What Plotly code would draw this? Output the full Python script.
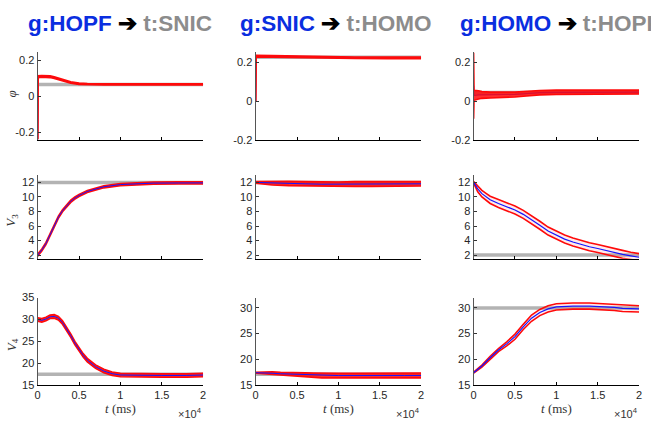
import plotly.graph_objects as go
from plotly.subplots import make_subplots

W, H = 651, 428

# ---------------- data ----------------
# time grids (ms)
t_phi1 = [0, 50, 500, 1000, 1500, 2000, 2500, 3000, 3500, 4000, 5000, 6000, 8000, 12000, 16000, 20000]
phi1_mid = [-0.24, 0.110, 0.112, 0.112, 0.110, 0.105, 0.098, 0.090, 0.083, 0.077, 0.070, 0.068, 0.067, 0.067, 0.067, 0.067]
phi1_hi = [-0.24, 0.115, 0.117, 0.117, 0.115, 0.110, 0.103, 0.095, 0.088, 0.081, 0.074, 0.071, 0.070, 0.070, 0.070, 0.070]
phi1_lo = [-0.24, 0.105, 0.107, 0.107, 0.105, 0.100, 0.093, 0.085, 0.078, 0.073, 0.066, 0.064, 0.064, 0.064, 0.064, 0.064]

t_phi2 = [0, 50, 2000, 5000, 8000, 12000, 16000, 20000]
phi2_mid = [0.0, 0.232, 0.231, 0.228, 0.225, 0.224, 0.223, 0.223]
phi2_hi = [0.0, 0.236, 0.235, 0.232, 0.229, 0.228, 0.227, 0.227]
phi2_lo = [0.0, 0.228, 0.227, 0.224, 0.221, 0.220, 0.219, 0.219]

t_phi3 = [0, 50, 600, 1000, 2000, 3000, 4000, 5000, 6000, 7000, 8000, 10000, 14000, 20000]
phi3_hi = [0.25, 0.056, 0.054, 0.050, 0.047, 0.046, 0.046, 0.047, 0.050, 0.053, 0.055, 0.057, 0.057, 0.057]
phi3_lo = [-0.09, 0.005, 0.012, 0.015, 0.017, 0.018, 0.020, 0.022, 0.026, 0.030, 0.033, 0.035, 0.037, 0.037]
phi3_mid = [0.08, 0.030, 0.033, 0.033, 0.032, 0.032, 0.033, 0.035, 0.038, 0.042, 0.044, 0.046, 0.047, 0.047]

t_v3a = [0, 500, 1000, 1500, 2000, 2500, 3000, 3500, 4000, 4500, 5000, 6000, 7000, 8000, 10000, 12000, 14000, 17000, 20000]
v3a_mid = [2.0, 2.7, 3.6, 4.8, 6.0, 7.2, 8.1, 8.8, 9.4, 9.85, 10.2, 10.75, 11.1, 11.4, 11.7, 11.85, 11.9, 11.92, 11.93]
v3a_hi = [2.15, 2.85, 3.75, 4.95, 6.15, 7.35, 8.25, 8.95, 9.55, 10.0, 10.35, 10.9, 11.25, 11.55, 11.85, 12.0, 12.05, 12.07, 12.08]
v3a_lo = [1.85, 2.55, 3.45, 4.65, 5.85, 7.05, 7.95, 8.65, 9.25, 9.7, 10.05, 10.6, 10.95, 11.25, 11.55, 11.7, 11.75, 11.77, 11.78]

t_v3b = [0, 2000, 4000, 6000, 8000, 10000, 12000, 14000, 16000, 18000, 20000]
v3b_mid = [12.0, 11.9, 11.85, 11.8, 11.75, 11.75, 11.78, 11.75, 11.78, 11.8, 11.8]
v3b_hi = [12.1, 12.15, 12.15, 12.1, 12.05, 12.05, 12.1, 12.05, 12.1, 12.1, 12.1]
v3b_lo = [11.9, 11.65, 11.55, 11.5, 11.45, 11.45, 11.45, 11.45, 11.45, 11.5, 11.5]

t_v3c = [0, 500, 1000, 1500, 2000, 3000, 4000, 5000, 6000, 7000, 8000, 9000, 10000, 11000, 12000, 13000, 14000, 15000, 16000, 17000, 18000, 19000, 20000]
v3c_mid = [12.0, 11.1, 10.45, 10.0, 9.6, 9.1, 8.7, 8.2, 7.6, 6.9, 6.1, 5.3, 4.7, 4.2, 3.8, 3.45, 3.15, 2.9, 2.6, 2.35, 2.1, 1.9, 1.7]
v3c_hi = [12.1, 11.5, 10.9, 10.5, 10.1, 9.65, 9.25, 8.75, 8.15, 7.45, 6.65, 5.85, 5.25, 4.75, 4.35, 4.0, 3.7, 3.45, 3.15, 2.9, 2.65, 2.4, 2.2]
v3c_lo = [11.9, 10.7, 10.0, 9.5, 9.1, 8.55, 8.15, 7.65, 7.05, 6.35, 5.55, 4.75, 4.15, 3.65, 3.25, 2.9, 2.6, 2.35, 2.05, 1.8, 1.55, 1.4, 1.2]

t_v4a = [0, 500, 1000, 1500, 2000, 2500, 3000, 3500, 4000, 4500, 5000, 5500, 6000, 7000, 8000, 9000, 10000, 12000, 15000, 18000, 20000]
v4a_mid = [30.0, 29.8, 30.1, 30.6, 30.7, 30.3, 29.3, 27.9, 26.3, 24.6, 23.1, 21.8, 20.7, 19.2, 18.2, 17.6, 17.3, 17.2, 17.2, 17.2, 17.3]
v4a_hi = [30.4, 30.2, 30.5, 31.0, 31.1, 30.7, 29.7, 28.3, 26.7, 25.0, 23.5, 22.2, 21.1, 19.6, 18.6, 18.0, 17.7, 17.6, 17.6, 17.6, 17.7]
v4a_lo = [29.6, 29.4, 29.7, 30.2, 30.3, 29.9, 28.9, 27.5, 25.9, 24.2, 22.7, 21.4, 20.3, 18.8, 17.8, 17.2, 16.9, 16.8, 16.8, 16.8, 16.9]

t_v4b = [0, 1000, 2000, 3000, 4000, 5000, 6000, 7000, 8000, 10000, 12000, 14000, 16000, 18000, 20000]
v4b_mid = [17.4, 17.4, 17.3, 17.2, 17.15, 17.1, 17.0, 16.95, 16.85, 16.85, 16.85, 16.8, 16.85, 16.85, 16.85]
v4b_hi = [17.5, 17.6, 17.6, 17.5, 17.5, 17.45, 17.4, 17.35, 17.3, 17.3, 17.3, 17.3, 17.3, 17.35, 17.35]
v4b_lo = [17.3, 17.2, 17.0, 16.9, 16.8, 16.75, 16.65, 16.55, 16.4, 16.4, 16.4, 16.35, 16.4, 16.4, 16.4]

t_v4c = [0, 1000, 2000, 3000, 4000, 5000, 6000, 7000, 8000, 9000, 10000, 11000, 12000, 14000, 16000, 17000, 18000, 19000, 20000]
v4c_mid = [17.4, 18.7, 20.3, 21.8, 23.0, 24.4, 26.3, 28.0, 29.1, 29.8, 30.2, 30.3, 30.35, 30.35, 30.2, 30.1, 29.9, 29.8, 29.8]
v4c_hi = [17.5, 18.9, 20.6, 22.1, 23.4, 24.9, 26.8, 28.6, 29.7, 30.4, 30.8, 30.9, 30.95, 30.95, 30.8, 30.7, 30.55, 30.45, 30.4]
v4c_lo = [17.3, 18.5, 20.0, 21.5, 22.6, 23.9, 25.8, 27.4, 28.5, 29.2, 29.6, 29.7, 29.75, 29.75, 29.6, 29.5, 29.3, 29.2, 29.2]

# target (gray) values per panel [row][col]
targets = [[0.067, 0.226, 0.045], [12.0, 12.0, 2.0], [17.5, 17.1, 30.0]]

titles_g = ["g:HOPF", "g:SNIC", "g:HOMO"]
titles_t = ["t:SNIC", "t:HOMO", "t:HOPF"]

xtick_vals = [0, 5000, 10000, 15000, 20000]
xtick_text = ["0", "0.5", "1", "1.5", "2"]
ytick_phi = [-0.2, 0, 0.2]
ytick_phi_text = ["-0.2", "0", "0.2"]
ytick_v3 = [2, 4, 6, 8, 10, 12]
ytick_v4a = [15, 20, 25, 30, 35]
ytick_v4b = [15, 20, 25, 30]

panels = [
    [(t_phi1, phi1_lo, phi1_mid, phi1_hi), (t_phi2, phi2_lo, phi2_mid, phi2_hi), (t_phi3, phi3_lo, phi3_mid, phi3_hi)],
    [(t_v3a, v3a_lo, v3a_mid, v3a_hi), (t_v3b, v3b_lo, v3b_mid, v3b_hi), (t_v3c, v3c_lo, v3c_mid, v3c_hi)],
    [(t_v4a, v4a_lo, v4a_mid, v4a_hi), (t_v4b, v4b_lo, v4b_mid, v4b_hi), (t_v4c, v4c_lo, v4c_mid, v4c_hi)],
]

# ---------------- layout geometry (pixels) ----------------
col_px = [(35, 202), (255, 422), (475, 642)]
row_px = [(47, 138), (174, 260), (300, 390)]
yranges = [
    [[-0.245, 0.25], [-0.2, 0.255], [-0.2, 0.255]],
    [[1.5, 13.0], [1.5, 13.0], [1.5, 13.0]],
    [[15, 35], [15, 32], [15, 32]],
]

RED = "#ff0a0a"
BLUE = "#1414ff"
GRAY = "#b3b3b3"
TICKFONT = dict(family="Liberation Sans, Arial, sans-serif", size=11, color="#262626")

fig = make_subplots(rows=3, cols=3)

for r in range(3):
    for c in range(3):
        t, lo, mid, hi = panels[r][c]
        # target line
        fig.add_trace(go.Scatter(x=[0, 20000], y=[targets[r][c]] * 2, mode="lines",
                                 line=dict(color=GRAY, width=3.5), showlegend=False,
                                 hoverinfo="skip"), row=r + 1, col=c + 1)
        wide = (c == 2 and r > 0)
        fillc = "rgba(255,60,60,0.10)" if wide else "rgba(255,10,10,0.85)"
        if r == 0:
            fig.add_trace(go.Scatter(x=t, y=mid, mode="lines", line=dict(color=BLUE, width=1.2),
                                     showlegend=False), row=r + 1, col=c + 1)
        fig.add_trace(go.Scatter(x=t, y=lo, mode="lines", line=dict(color=RED, width=1.6),
                                 showlegend=False), row=r + 1, col=c + 1)
        fig.add_trace(go.Scatter(x=t, y=hi, mode="lines", line=dict(color=RED, width=1.6),
                                 fill="tonexty", fillcolor=fillc, showlegend=False),
                      row=r + 1, col=c + 1)
        if r > 0:
            fig.add_trace(go.Scatter(x=t, y=mid, mode="lines",
                                     line=dict(color=BLUE, width=1.2 if wide else 1.0),
                                     showlegend=False), row=r + 1, col=c + 1)

        idx = r * 3 + c + 1
        xa = "xaxis" if idx == 1 else f"xaxis{idx}"
        ya = "yaxis" if idx == 1 else f"yaxis{idx}"
        x0, x1 = col_px[c]
        y0, y1 = row_px[r]
        fig.layout[xa].update(
            domain=[x0 / W, x1 / W], range=[0, 20000], showgrid=False, zeroline=False,
            showline=True, linecolor="#000000", linewidth=1, ticks="inside", ticklen=3,
            tickcolor="#000000", tickvals=xtick_vals,
            ticktext=xtick_text if r == 2 else [""] * 5, tickfont=TICKFONT,
        )
        if r == 0:
            yt, ytt = ytick_phi, ytick_phi_text
        elif r == 1:
            yt, ytt = ytick_v3, [str(v) for v in ytick_v3]
        else:
            yt = ytick_v4a if c == 0 else ytick_v4b
            ytt = [str(v) for v in yt]
        fig.layout[ya].update(
            domain=[1 - y1 / H, 1 - y0 / H], range=yranges[r][c], showgrid=False, zeroline=False,
            showline=True, linecolor="#555555", linewidth=1.3, ticks="inside", ticklen=3,
            tickcolor="#333333", tickvals=yt, ticktext=ytt, tickfont=TICKFONT,
        )

annotations = []
title_xc = [118.5, 336, 562]
for c in range(3):
    annotations.append(dict(
        x=title_xc[c] / W, y=1 - 18 / H, xref="paper", yref="paper", xanchor="center", yanchor="middle",
        showarrow=False,
        text=(f"<b><span style='color:#0a2ee0'>{titles_g[c]}</span> "
              f"<span style='color:#000000'>➔</span> "
              f"<span style='color:#8c8c8c'>{titles_t[c]}</span></b>"),
        font=dict(family="Liberation Sans, Arial, sans-serif", size=22.5),
    ))
    xc = (col_px[c][0] + col_px[c][1]) / 2
    annotations.append(dict(
        x=xc / W, y=1 - 414 / H, xref="paper", yref="paper", xanchor="center", yanchor="middle",
        showarrow=False, text="<i>t</i> (ms)",
        font=dict(family="Liberation Serif, DejaVu Serif, serif", size=13, color="#333333"),
    ))
    annotations.append(dict(
        x=(col_px[c][1] + 1) / W, y=1 - 419 / H, xref="paper", yref="paper", xanchor="right",
        yanchor="middle", showarrow=False, text="×10<sup>4</sup>",
        font=dict(family="Liberation Sans, Arial, sans-serif", size=11, color="#333333"),
    ))

ylabels = [("<i>φ</i>", 90), ("<i>V</i><sub>3</sub>", 220), ("<i>V</i><sub>4</sub>", 348)]
for txt, yp in ylabels:
    annotations.append(dict(
        x=9 / W, y=1 - yp / H, xref="paper", yref="paper", xanchor="center", yanchor="middle",
        showarrow=False, text=txt, textangle=-90,
        font=dict(family="Liberation Serif, DejaVu Serif, serif", size=13, color="#333333"),
    ))

fig.update_layout(
    width=W, height=H, margin=dict(l=0, r=0, t=0, b=0),
    paper_bgcolor="white", plot_bgcolor="white", showlegend=False,
    annotations=annotations,
)

fig.write_html("out.html")
